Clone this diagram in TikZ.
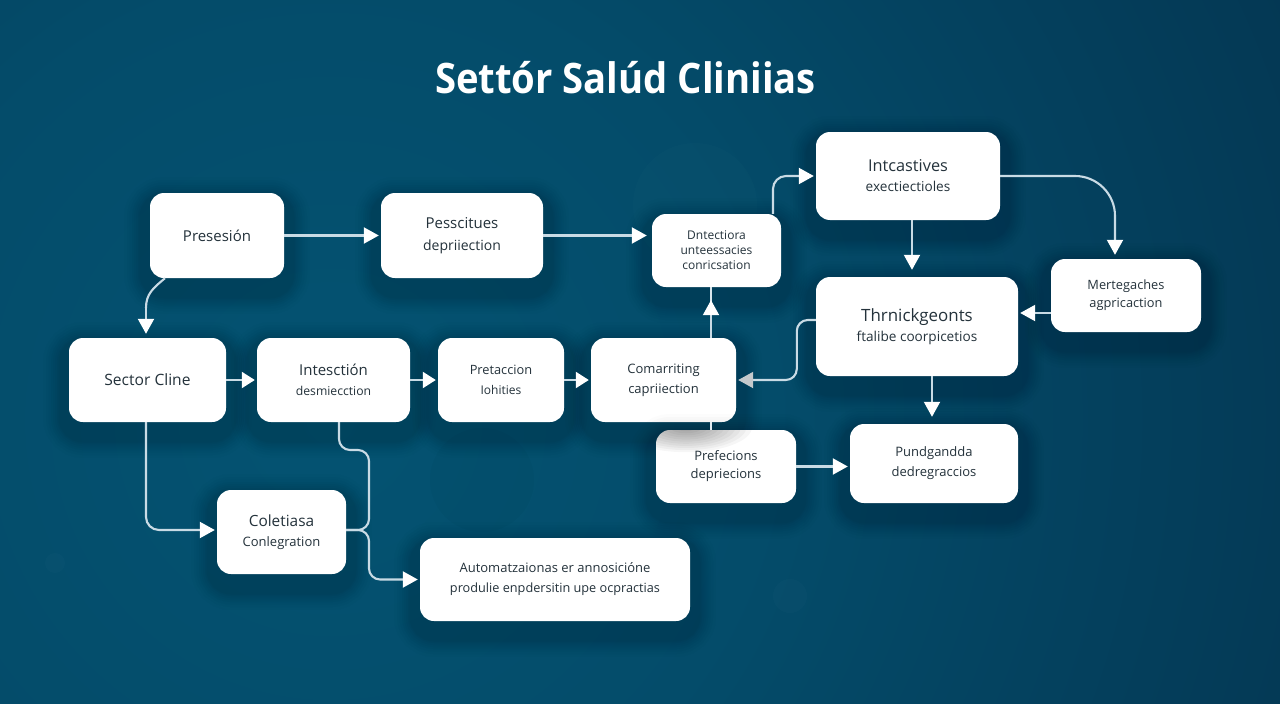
\documentclass[tikz,border=0pt]{standalone}
\usepackage{fontspec}
\setmainfont{Open Sans}
\usetikzlibrary{arrows.meta,calc}
\definecolor{txt}{HTML}{24323B}
\definecolor{wire}{HTML}{C9DBE5}
\definecolor{headgray}{HTML}{C4C9CC}
\pgfdeclareradialshading{bgrad}{\pgfpoint{0bp}{0bp}}{
  rgb(0bp)=(0.016,0.325,0.447);
  rgb(10bp)=(0.016,0.298,0.416);
  rgb(20bp)=(0.016,0.240,0.353);
  rgb(32bp)=(0.016,0.176,0.275);
  rgb(42bp)=(0.016,0.149,0.243);
  rgb(50bp)=(0.012,0.125,0.212)}
\tikzset{
  x=1pt,y=-1pt,
  softshadow/.style={
    preaction={draw=black,fill=none,line width=52pt,opacity=.013,transform canvas={yshift=-10pt}},
    preaction={draw=black,fill=none,line width=46pt,opacity=.015,transform canvas={yshift=-10pt}},
    preaction={draw=black,fill=none,line width=41pt,opacity=.017,transform canvas={yshift=-10pt}},
    preaction={draw=black,fill=none,line width=36pt,opacity=.018,transform canvas={yshift=-10pt}},
    preaction={draw=black,fill=none,line width=32pt,opacity=.02,transform canvas={yshift=-10pt}},
    preaction={draw=black,fill=none,line width=28pt,opacity=.021,transform canvas={yshift=-10pt}},
    preaction={draw=black,fill=none,line width=24pt,opacity=.023,transform canvas={yshift=-10pt}},
    preaction={draw=black,fill=none,line width=21pt,opacity=.025,transform canvas={yshift=-10pt}}},
  card/.style={softshadow,rectangle,rounded corners=14pt,fill=white,text=txt,align=center,
    inner sep=0pt,font=\fontsize{13}{20}\selectfont},
  conn/.style={draw=wire,line width=2.1pt,rounded corners=13pt,
    -{Triangle[length=15pt,width=16pt,color=white]},shorten >=2pt},
  plain/.style={draw=wire,line width=2.1pt,rounded corners=11pt},
}
\newcommand{\card}[7]{\node[card,minimum width=#4pt-#2pt,minimum height=#5pt-#3pt,#7] (#1) at ({(#2+#4)/2},{(#3+#5)/2}) {#6};}
\begin{document}
\begin{tikzpicture}
\useasboundingbox (0,0) rectangle (1280,704);
\begin{scope}
\clip (0,0) rectangle (1280,704);
\shade[shading=bgrad] (330,420) circle (1100);
\fill[white,opacity=.012] (695,205) circle (62);
\fill[black,opacity=.025] (482,480) circle (52);
\fill[white,opacity=.015] (790,596) circle (17);
\fill[white,opacity=.015] (55,563) circle (10);
\end{scope}
\node[text=white,font=\fontsize{42}{48}\bfseries\selectfont] (title) at (625.5,78) {\scalebox{.91}[1]{Settór Salúd Cliniias}};
\card{pres}{150}{193}{284}{278}{\fontsize{15}{20}\selectfont Presesión}{}
\card{pess}{381}{193}{543}{278}{{\fontsize{15}{21}\selectfont Pesscitues}\\[1.5pt]{\fontsize{14}{21}\selectfont depriiection}}{}
\card{dnt}{652}{214}{781}{287}{Dntectiora\\[-2pt]unteessacies\\[-2pt]conricsation}{font=\fontsize{12}{17}\selectfont}
\card{inc}{816}{132}{1000}{220}{{\fontsize{16.3}{22}\selectfont Intcastives}\\{\fontsize{13.6}{20}\selectfont exectiectioles}}{}
\card{mer}{1051}{259}{1201}{332}{Mertegaches\\agpricaction}{font=\fontsize{12.8}{18}\selectfont}
\card{thr}{816}{277}{1018}{376}{{\fontsize{16.9}{24}\selectfont Thrnickgeonts}\\{\fontsize{13.6}{21}\selectfont ftalibe coorpicetios}}{}
\card{sec}{69}{338}{226}{422}{\fontsize{15.6}{20}\selectfont Sector Cline}{}
\card{ints}{257}{338}{410}{422}{{\fontsize{15}{20}\selectfont Intesctión}\\{\fontsize{12.2}{19}\selectfont desmiecction}}{}
\card{pre}{438}{338}{564}{422}{{\fontsize{12.8}{16}\selectfont Pretaccion}\\{\fontsize{12}{16}\selectfont Iohities}}{}
\card{com}{591}{338}{736}{422}{Comarriting\\capriiection}{}
\card{prf}{656}{430}{796}{503}{Prefecions\\depriecions}{font=\fontsize{13}{18}\selectfont,path picture={\foreach \r in {1,...,12} {\fill[black,opacity=.035] ([xshift=30pt,yshift=3pt]path picture bounding box.north west) ellipse ({5.5*\r} and {2.1*\r});}}}
\card{pun}{850}{424}{1018}{503}{Pundgandda\\dedregraccios}{}
\card{col}{217}{490}{346}{574}{{\fontsize{15.4}{20}\selectfont Coletiasa}\\Conlegration}{}
\card{aut}{420}{538}{690}{621}{Automatzaionas er annosicióne\\{\fontsize{12.7}{20}\selectfont produlie enpdersitin upe ocpractias}}{}
\coordinate (jct) at ([yshift=2pt]col.east);
\coordinate (elbow) at (369,530);
\coordinate (presbend) at (146,308);
% connectors
\draw[conn] (pres.east) -- (pess.west);
\draw[conn,shorten >=5pt] (pess.east) -- (pess.east -| dnt.west);
\draw[conn] ([xshift=56.5pt]dnt.north) |- (inc.west);
\draw[conn,rounded corners=40pt] (inc.east) -| ([yshift=2pt,xshift=-11pt]mer.north);
\draw[conn] ([xshift=4pt]inc.south) -- ([xshift=-5pt,yshift=5pt]thr.north);
\draw[conn] ([yshift=-17.5pt]mer.west) -- ([yshift=13.5pt]thr.east);
\draw[conn,-{Triangle[length=15pt,width=16pt,color=headgray]},rounded corners=11pt] ([yshift=6.5pt]thr.west) -- ++(-19,0) |- (com.east);
\draw[conn] ([xshift=15pt]thr.south) -- ([xshift=-2pt,yshift=5pt]pun.north);
\draw[plain] ([xshift=-52pt]pres.south) .. controls +(-12,10) and +(0,-14) .. (presbend);
\draw[conn] (presbend) -- ([xshift=-1.5pt,yshift=2pt]sec.north);
\draw[conn,-{Triangle[length=13pt,width=16pt,color=white]}] (sec.east) -- (ints.west);
\draw[conn,-{Triangle[length=13pt,width=16pt,color=white]}] (ints.east) -- (pre.west);
\draw[conn,-{Triangle[length=13pt,width=16pt,color=white]}] (pre.east) -- (com.west);
\draw[plain,line width=1.2pt,draw=wire!70] ([xshift=47.5pt]com.north) -- ([xshift=-5.5pt]dnt.south);
\draw[conn,shorten >=13pt] ([xshift=47.5pt]com.north) -- ([xshift=-5.5pt]dnt.south);
\draw[plain,line width=1.2pt,draw=wire!55] ([xshift=47.5pt]com.south) -- ([xshift=-15pt]prf.north);
\draw[conn] ([xshift=-1.5pt]sec.south) |- (jct -| col.west);
\draw[plain] ([xshift=5.5pt]ints.south) |- (369,450) -- (elbow) -- (jct);
\draw[conn,rounded corners=11pt] (jct) -- (elbow) |- (aut.west);
\draw[conn] (prf.east) -- (pun.west |- prf.east);
\end{tikzpicture}
\end{document}
